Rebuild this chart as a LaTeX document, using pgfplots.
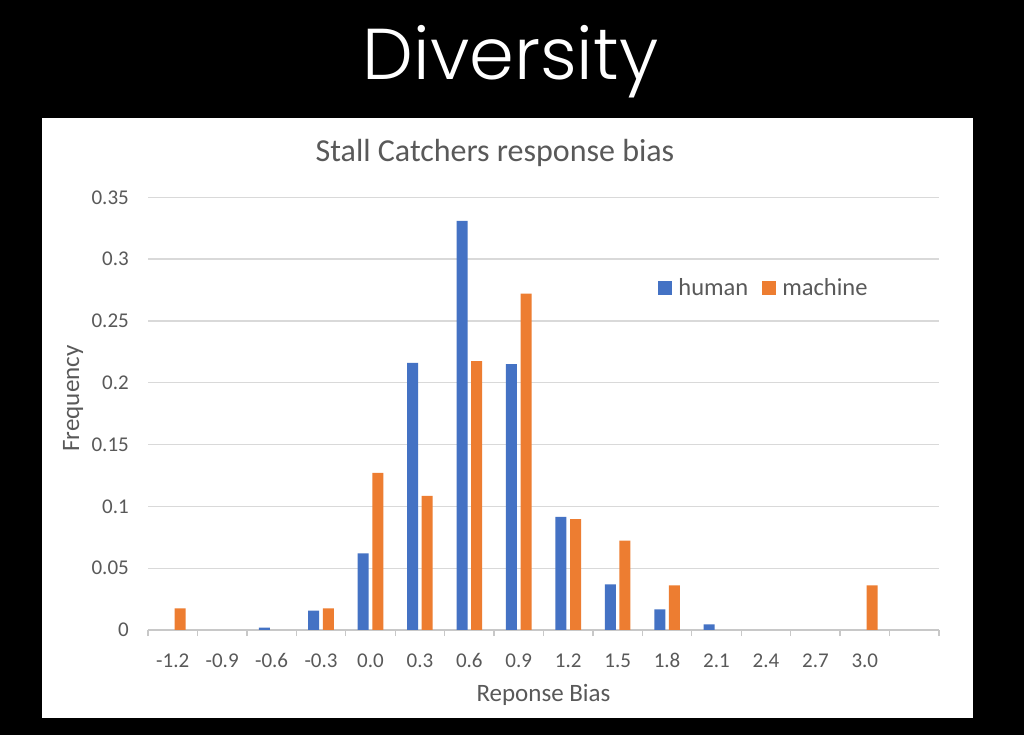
\documentclass[border=0pt]{standalone}
\usepackage{pgfplots}
\pgfplotsset{compat=1.18}
\usepackage{fontspec}
\setmainfont{Carlito}
\newfontfamily\divfont{Poppins}[UprightFont=* Light]
\definecolor{txtgray}{HTML}{595959}
\definecolor{gridgray}{HTML}{D9D9D9}
\definecolor{axgray}{HTML}{C8C8C8}
\definecolor{hblue}{HTML}{4472C4}
\definecolor{morange}{HTML}{ED7D31}
\begin{document}
\begin{tikzpicture}
\useasboundingbox (0,0) rectangle (1024bp,735bp);
\fill[black] (0,0) rectangle (1024bp,735bp);
\fill[white] (42bp,17bp) rectangle (973bp,617bp);
\node[anchor=base, text=white, font=\divfont\fontsize{72bp}{80bp}\selectfont, inner sep=0] at (510.5bp,655bp) {Diversity};
\node[anchor=base, text=txtgray, font=\fontsize{32bp}{36bp}\selectfont, inner sep=0] at (495bp,573.7bp) {Stall Catchers response bias};
\begin{axis}[
  at={(148bp,105bp)}, anchor=south west,
  width=791bp, height=432.7bp, scale only axis,
  xmin=-0.5, xmax=15.5, ymin=0, ymax=0.35,
  ybar=3.6bp, bar width=11bp,
  axis x line*=bottom, axis y line*=left,
  separate axis lines,
  x axis line style={draw=axgray, line width=1.3bp, -},
  y axis line style={draw=none},
  ymajorgrids, grid style={draw=gridgray, line width=1.3bp},
  ytick={0,0.05,0.1,0.15,0.2,0.25,0.3,0.35},
  yticklabels={0,0.05,0.1,0.15,0.2,0.25,0.3,0.35},
  ytick style={draw=none},
  yticklabel style={anchor=east, inner sep=0pt, xshift=-19bp, text=txtgray, font=\fontsize{21bp}{24bp}\selectfont},
  xtick={0,1,2,3,4,5,6,7,8,9,10,11,12,13,14},
  xticklabels={-1.2,-0.9,-0.6,-0.3,0.0,0.3,0.6,0.9,1.2,1.5,1.8,2.1,2.4,2.7,3.0},
  xtick style={draw=none},
  xticklabel style={anchor=base, inner sep=0pt, yshift=-33.3bp, text=txtgray, font=\fontsize{21bp}{24bp}\selectfont},
  extra x ticks={-0.5,0.5,1.5,2.5,3.5,4.5,5.5,6.5,7.5,8.5,9.5,10.5,11.5,12.5,13.5,14.5,15.5},
  extra x tick labels={},
  extra x tick style={xtick style={draw=axgray, line width=1.3bp}, tick align=outside, major tick length=6bp, xmajorgrids=false},
  /pgf/number format/assume math mode=true,
  xlabel={Reponse Bias},
  xlabel style={at={(axis description cs:0.5,0)}, anchor=base, yshift=-71bp, inner sep=0pt, text=txtgray, font=\fontsize{25bp}{28bp}\selectfont},
  ylabel={Frequency},
  ylabel style={at={(axis description cs:-0.0870,0.535)}, anchor=base, rotate=0, inner sep=0pt, text=txtgray, font=\fontsize{25bp}{28bp}\selectfont},
  legend style={at={(axis description cs:0.645,0.79)}, anchor=west, draw=none, fill=none,
    inner sep=0pt, text=txtgray, font=\fontsize{24.5bp}{28bp}\selectfont,
    /tikz/every even column/.append style={column sep=12bp}},
  legend columns=2,
  legend image code/.code={\fill[#1] (0bp,-7bp) rectangle (14bp,7bp); \path (18bp,0bp);},
]
\addplot[fill=hblue, draw=none] coordinates {(2,0.002) (3,0.0156) (4,0.062) (5,0.216) (6,0.331) (7,0.215) (8,0.0915) (9,0.037) (10,0.0167) (11,0.0046)};
\addplot[fill=morange, draw=none] coordinates {(0,0.0175) (3,0.0175) (4,0.127) (5,0.1085) (6,0.2175) (7,0.272) (8,0.0897) (9,0.0722) (10,0.0361) (14,0.0361)};
\legend{human, machine}
\end{axis}
\end{tikzpicture}
\end{document}
